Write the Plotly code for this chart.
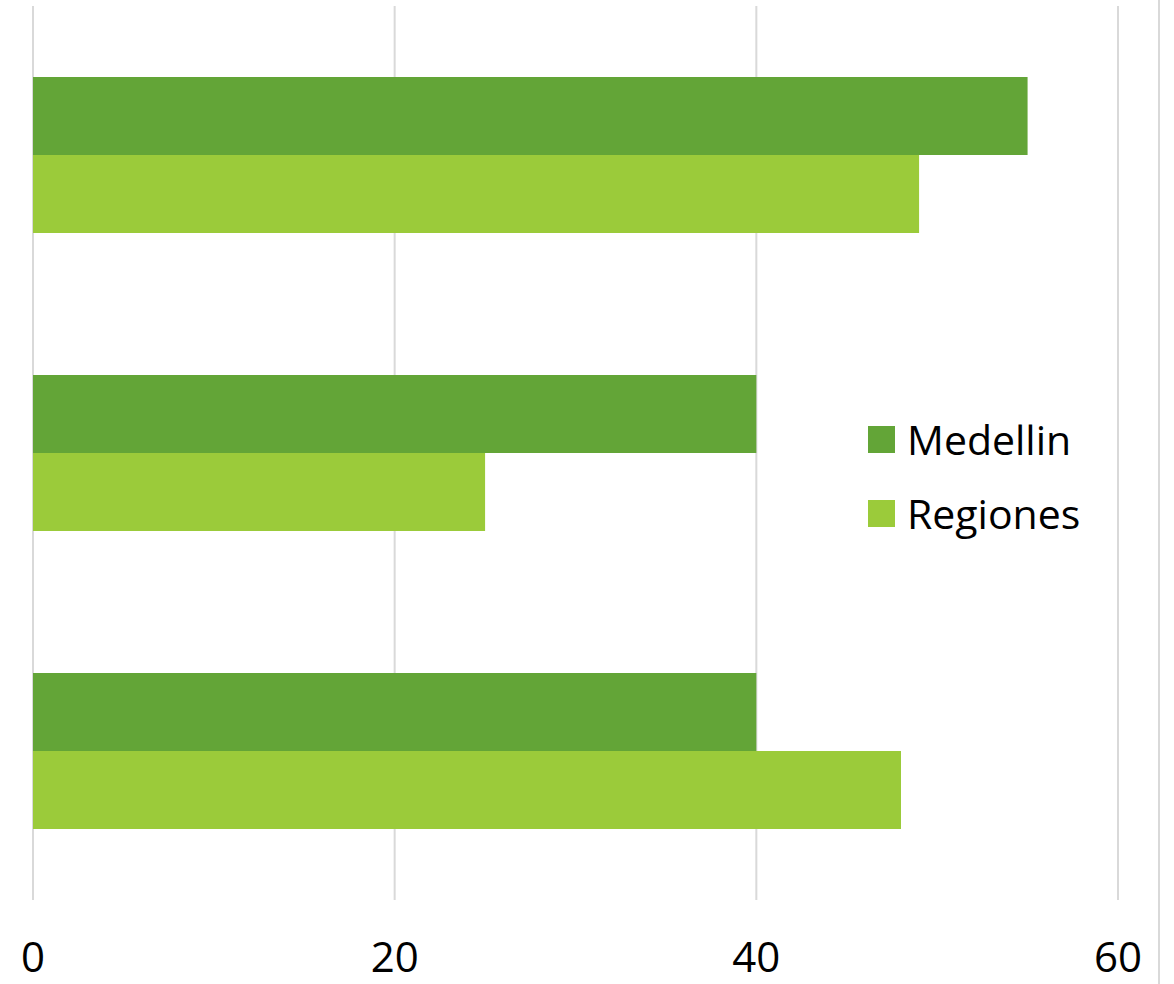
import plotly.graph_objects as go

# Data
categories = ["Grupo 1", "Grupo 2", "Grupo 3"]
series_names = ["Medellin", "Regiones"]
medellin = [55, 40, 40]
regiones = [49, 25, 48]
colors = ["#63A537", "#9BCB3A"]
x_ticks = [0, 20, 40, 60]
x_range = [0, 60]

W, H = 1174, 984
M_L, M_R, M_T, M_B = 33, 56, 6, 84
PW, PH = W - M_L - M_R, H - M_T - M_B


def px_x(px):
    return (px - M_L) / PW


def px_y(py):
    return (H - M_B - py) / PH


fig = go.Figure()
for name, vals, col in zip(series_names, [medellin, regiones], colors):
    fig.add_trace(go.Bar(
        y=categories, x=vals, name=name, orientation="h",
        marker=dict(color=col, line=dict(width=0)),
        showlegend=False,
    ))

# Vertical grid lines (paper-referenced so the edge lines are not clipped)
for v in x_ticks:
    xp = (v - x_range[0]) / (x_range[1] - x_range[0])
    fig.add_shape(type="line", xref="paper", yref="paper", x0=xp, x1=xp, y0=0, y1=1,
                  line=dict(color="#D9D9D9", width=2), layer="below")

# Legend drawn as squares and labels
font_family = "Open Sans, Liberation Sans, sans-serif"
legend_rows = [439.5, 513.5]
for name, col, cy in zip(series_names, colors, legend_rows):
    fig.add_shape(type="rect", xref="paper", yref="paper",
                  x0=px_x(868), x1=px_x(895), y0=px_y(cy + 13.5), y1=px_y(cy - 13.5),
                  fillcolor=col, line=dict(width=0))
    fig.add_annotation(xref="paper", yref="paper", x=px_x(905), y=px_y(cy - 1),
                       text=name, showarrow=False, xanchor="left", yanchor="middle",
                       font=dict(family=font_family, size=41, color="#000000"))

# Right border line of the chart area
fig.add_shape(type="line", xref="paper", yref="paper",
              x0=px_x(1159), x1=px_x(1159), y0=px_y(0), y1=px_y(H),
              line=dict(color="#D9D9D9", width=2))

fig.update_layout(
    width=W, height=H,
    margin=dict(l=M_L, r=M_R, t=M_T, b=M_B, autoexpand=False),
    barmode="group", bargap=0.477, bargroupgap=0,
    plot_bgcolor="white", paper_bgcolor="white",
    font=dict(family=font_family, color="#000000"),
    xaxis=dict(range=x_range, tickvals=x_ticks, ticktext=[str(v) for v in x_ticks],
               showgrid=False, zeroline=False, showline=False, ticks="",
               tickfont=dict(size=42, family=font_family),
               ticklabelstandoff=29, automargin=False),
    yaxis=dict(autorange="reversed", showticklabels=False, showgrid=False,
               zeroline=False, showline=False, ticks="", automargin=False),
)

fig.write_html("out.html")
